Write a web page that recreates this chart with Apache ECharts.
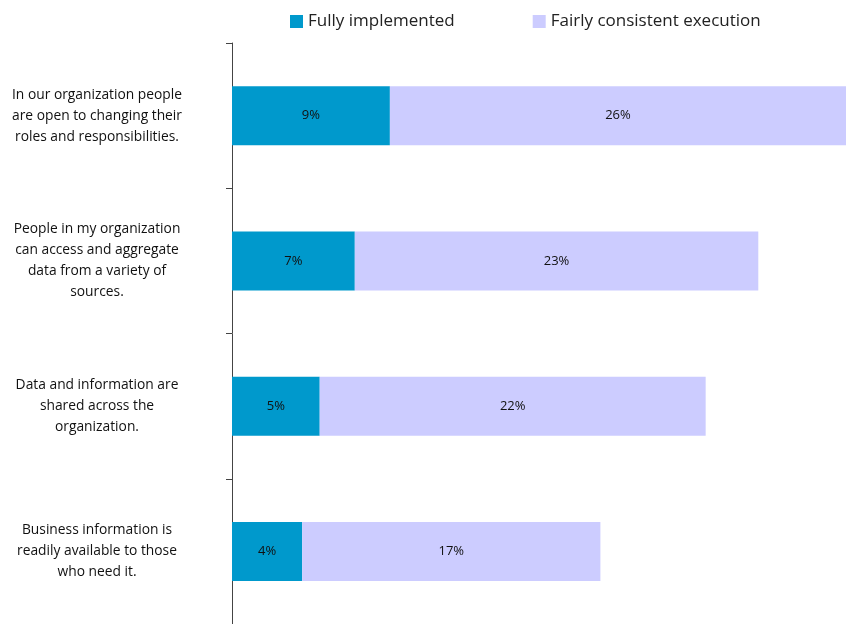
<!DOCTYPE html>
<html>
<head>
<meta charset="utf-8">
<script src="https://cdn.jsdelivr.net/npm/echarts@6/dist/echarts.min.js"></script>
<style>
  html, body { margin: 0; padding: 0; background: #ffffff; }
  #chart { width: 846px; height: 624px; }
</style>
</head>
<body>
<div id="chart"></div>
<script>
// Survey statements (top to bottom) and share of respondents per response
const categories = [
  'In our organization people\nare open to changing their\nroles and responsibilities.',
  'People in my organization\ncan access and aggregate\ndata from a variety of\nsources.',
  'Data and information are\nshared across the\norganization.',
  'Business information is\nreadily available to those\nwho need it.'
];
const seriesNames = ['Fully implemented', 'Fairly consistent execution'];
const fullyImplemented = [9, 7, 5, 4];
const fairlyConsistent = [26, 23, 22, 17];

const FONT = '"Open Sans", "Noto Sans", sans-serif';

const chart = echarts.init(document.getElementById('chart'));
const labelStyle = {
  show: true,
  position: 'inside',
  formatter: p => p.value + '%',
  color: '#111',
  fontSize: 13,
  fontFamily: FONT
};

chart.setOption({
  animation: false,
  legend: {
    top: 8,
    left: 285,
    itemWidth: 13,
    itemHeight: 13,
    itemGap: 78,
    icon: 'rect',
    textStyle: { fontSize: 17, color: '#222', fontFamily: FONT },
    data: seriesNames
  },
  grid: { left: 232, right: 0, top: 43, height: 584, containLabel: false },
  xAxis: {
    type: 'value',
    min: 0,
    max: 35,
    show: false
  },
  yAxis: {
    type: 'category',
    inverse: true,
    data: categories,
    axisLine: { show: true, lineStyle: { color: '#444', width: 1 } },
    axisTick: { show: true, length: 6, lineStyle: { color: '#444' } },
    axisLabel: {
      margin: 135,
      align: 'center',
      color: '#111',
      fontSize: 13.8,
      lineHeight: 21,
      fontFamily: FONT
    }
  },
  series: [
    {
      name: seriesNames[0],
      type: 'bar',
      stack: 'total',
      barWidth: 59,
      itemStyle: { color: '#0099CC' },
      label: labelStyle,
      data: fullyImplemented
    },
    {
      name: seriesNames[1],
      type: 'bar',
      stack: 'total',
      barWidth: 59,
      itemStyle: { color: '#CCCCFF' },
      label: labelStyle,
      data: fairlyConsistent
    }
  ]
});
</script>
</body>
</html>
